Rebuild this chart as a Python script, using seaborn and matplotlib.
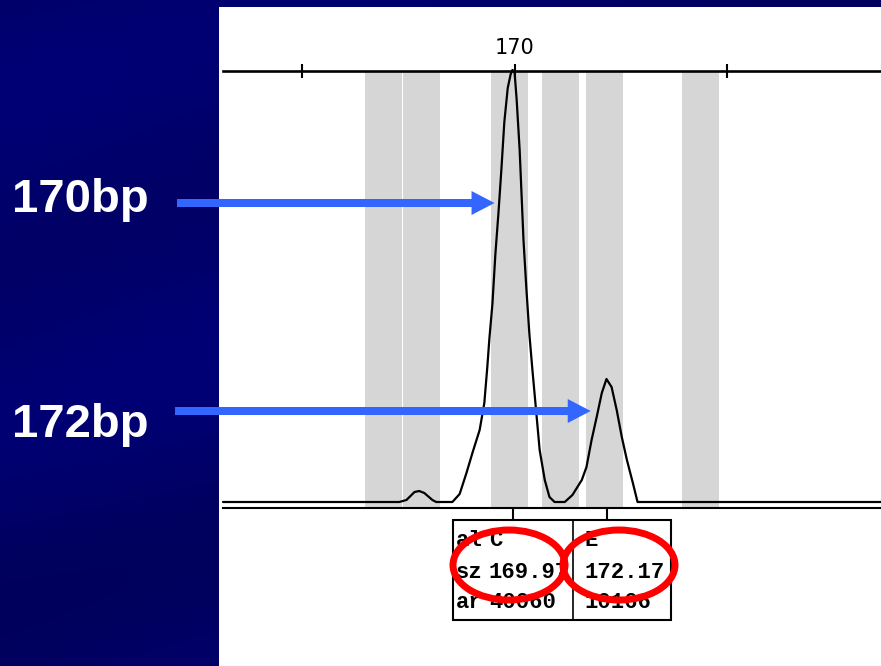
import numpy as np
import pandas as pd
import matplotlib
matplotlib.use("Agg")
import matplotlib.pyplot as plt
from matplotlib.colors import LinearSegmentedColormap
from matplotlib.patches import Rectangle, Ellipse, FancyArrow
from matplotlib.transforms import blended_transform_factory
import seaborn as sns

# electropherogram trace: size (bp) and signal
size_bp = [163.15, 167.29, 167.46, 167.65, 167.76, 167.88, 168.07, 168.16,
           168.54, 168.71, 168.87, 169.01, 169.18, 169.29, 169.36, 169.41,
           169.48, 169.55, 169.62, 169.69, 169.76, 169.84, 169.91, 169.95,
           170.00, 170.05, 170.12, 170.16, 170.21, 170.28, 170.35, 170.42,
           170.52, 170.59, 170.71, 170.82, 170.94, 171.18, 171.36, 171.58,
           171.69, 171.81, 171.93, 172.05, 172.16, 172.28, 172.40, 172.52,
           172.64, 172.78, 172.89, 178.61]
signal = [0, 0, 2, 10, 11, 9, 2, 0,
          0, 8, 29, 49, 72, 99, 135, 164,
          198, 248, 288, 332, 380, 414, 428, 432,
          430, 402, 352, 312, 262, 212, 167, 132,
          85, 52, 22, 5, 0, 0, 7, 22,
          35, 62, 85, 109, 123, 115, 92, 65,
          42, 19, 0, 0]

# allele bins (grey bands)
bin_centers = [166.91, 167.81, 169.89, 171.09, 172.11, 174.36]
bin_width = 0.87

# size axis
tick_sizes = [165, 170, 175]
tick_labels = ["", "170", ""]

# allele call table
row_names = ["al", "sz", "ar"]
allele_labels = ["C", "E"]
allele_sizes = [169.97, 172.17]
allele_areas = [40060, 10166]

# arrow labels and the trace points they point at
arrow_text = ["170bp", "172bp"]
arrow_bp = [169.53, 171.79]
arrow_signal = [299, 91]

W, H = 881, 666
BLUE = "#3366ff"

sns.set_style("white")
plt.rcParams["font.family"] = ["DejaVu Sans"]

fig = plt.figure(figsize=(W / 100, H / 100), dpi=100)

# slide background + white panel
bg = fig.add_axes([0, 0, 1, 1], zorder=0)
yy, xx = np.mgrid[0:H, 0:W]
texture = 0.5 + 0.3 * np.sin((yy + 0.3 * xx) / 55.0) + 0.2 * np.sin((yy - 0.1 * xx) / 140.0)
navy = LinearSegmentedColormap.from_list("navy", ["#00005c", "#000078"])
bg.imshow(texture, cmap=navy, extent=(0, W, H, 0), aspect="auto")
bg.add_patch(Rectangle((219, 7), W - 219, H - 7, color="white", lw=0))
bg.set_xlim(0, W)
bg.set_ylim(H, 0)
bg.axis("off")

# electropherogram
ax = fig.add_axes([223 / W, 1 - 508 / H, 1 - 223 / W, 437 / H], zorder=1)
ax.set_facecolor("none")
for c in bin_centers:
    ax.axvspan(c - bin_width / 2, c + bin_width / 2, color="#d6d6d6", lw=0, zorder=0)

trace = pd.DataFrame({"size": size_bp, "signal": signal})
sns.lineplot(data=trace, x="size", y="signal", ax=ax, color="black", lw=1.6,
             estimator=None, sort=False, clip_on=False)
ax.set_xlim(163.15, 178.61)
ax.set_ylim(-6, 431)
ax.set_xlabel("")
ax.set_ylabel("")
ax.set_yticks([])
ax.xaxis.tick_top()
ax.set_xticks(tick_sizes)
ax.set_xticklabels(tick_labels)
ax.tick_params(axis="x", top=True, bottom=False, direction="inout", length=10,
               width=1.5, pad=4.4, labelsize=15, colors="black")
for side in ["left", "right"]:
    ax.spines[side].set_visible(False)
ax.spines["top"].set_linewidth(1.9)
ax.spines["bottom"].set_linewidth(1.5)
ax.spines["top"].set_color("black")
ax.spines["bottom"].set_color("black")

# overlay in pixel units for the annotations
ov = fig.add_axes([0, 0, 1, 1], zorder=2)
ov.set_xlim(0, W)
ov.set_ylim(H, 0)
ov.axis("off")
to_px = ov.transData.inverted()

# allele table
box_l, box_r, box_t, box_b = 453, 671, 520, 620
ov.add_patch(Rectangle((box_l, box_t), box_r - box_l, box_b - box_t,
                       fill=False, ec="black", lw=1.5))
ov.plot([572.7, 572.7], [box_t, box_b], color="black", lw=1.2)
blend = blended_transform_factory(ax.transData, ax.transAxes)
for s in allele_sizes:
    px = to_px.transform(blend.transform((s, 0)))[0]
    ov.plot([px, px], [508, box_t], color="black", lw=1.5)

row_y = [541, 573, 603]
mono = dict(family="Liberation Mono", fontsize=16, fontweight="bold",
            color="black", va="center")
for name, y in zip(row_names, row_y):
    ov.text(456, y, name, ha="left", **mono)
left_vals = [allele_labels[0], f"{allele_sizes[0]:.2f}", str(allele_areas[0])]
right_vals = [allele_labels[1], f"{allele_sizes[1]:.2f}", str(allele_areas[1])]
for lv, rv, y in zip(left_vals, right_vals, row_y):
    ov.text(489, y, lv, ha="left", **mono)
    ov.text(584, y, rv, ha="left", **mono)

# red circles round the sizes
for cx in [509, 619]:
    ov.add_patch(Ellipse((cx, 565), 112, 70, fill=False, ec="#ff0000", lw=5, zorder=5))

# arrows + labels on the left
tails = [177, 175]
baselines = [212, 437]
for txt, bp, sig, tx, base in zip(arrow_text, arrow_bp, arrow_signal, tails, baselines):
    tip_x, tip_y = to_px.transform(ax.transData.transform((bp, sig)))
    ov.add_patch(FancyArrow(tx, tip_y, tip_x - tx, 0, width=8, head_width=24,
                            head_length=23, length_includes_head=True,
                            color=BLUE, lw=0, zorder=4))
    ov.text(12, base, txt, family="Liberation Sans", fontweight="bold",
            fontsize=34, color="white", ha="left", va="baseline")

fig.savefig("out.png", dpi=100)
